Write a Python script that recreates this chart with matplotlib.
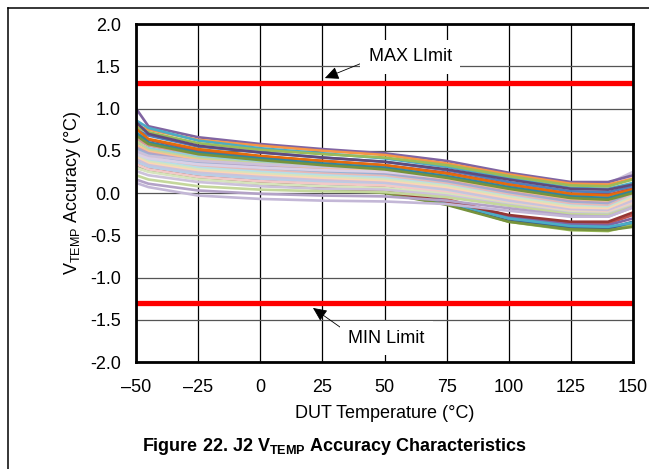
import matplotlib
matplotlib.use("Agg")
from matplotlib import pyplot as plt

plt.rcParams['font.family'] = ['Liberation Sans', 'DejaVu Sans']
plt.rcParams['mathtext.default'] = 'regular'

# temperature points of every unit curve
x_temp = [-50, -45, -25, 0, 25, 50, 75, 100, 125, 140, 150]

# units with the highest error at cold
upper_units = [
    [1.00, 0.79, 0.66, 0.58, 0.52, 0.47, 0.38, 0.24, 0.13, 0.13, 0.21],
    [0.80, 0.75, 0.63, 0.56, 0.50, 0.45, 0.35, 0.22, 0.11, 0.10, 0.17],
    [0.86, 0.77, 0.62, 0.53, 0.47, 0.41, 0.31, 0.18, 0.06, 0.05, 0.12],
    [0.78, 0.72, 0.59, 0.51, 0.46, 0.42, 0.33, 0.20, 0.09, 0.08, 0.16],
    [0.75, 0.68, 0.55, 0.48, 0.42, 0.37, 0.27, 0.13, 0.02, 0.01, 0.08],
    [0.70, 0.63, 0.50, 0.43, 0.38, 0.33, 0.24, 0.10, -0.01, -0.02, 0.05],
    [0.84, 0.70, 0.56, 0.48, 0.42, 0.37, 0.28, 0.16, 0.05, 0.04, 0.10],
    [0.76, 0.64, 0.52, 0.44, 0.38, 0.33, 0.23, 0.10, -0.01, -0.03, 0.04],
    [0.72, 0.60, 0.48, 0.41, 0.35, 0.30, 0.20, 0.07, -0.04, -0.06, 0.02],
    [0.68, 0.58, 0.46, 0.39, 0.33, 0.28, 0.18, 0.05, -0.06, -0.08, 0.00],
]
upper_colors = ['#8064A2', '#F79646', '#4BACC6', '#9BBB59', '#4F81BD',
                '#C0504D', '#604A7B', '#E46C0A', '#31859C', '#77933C']

# units in the middle of the band
middle_units = [
    [0.64, 0.56, 0.45, 0.39, 0.34, 0.30, 0.21, 0.08, -0.03, -0.05, 0.08],
    [0.60, 0.53, 0.43, 0.37, 0.32, 0.28, 0.19, 0.06, -0.05, -0.07, 0.06],
    [0.62, 0.51, 0.41, 0.35, 0.30, 0.27, 0.18, 0.05, -0.06, -0.08, 0.05],
    [0.57, 0.49, 0.39, 0.33, 0.29, 0.25, 0.16, 0.03, -0.08, -0.10, 0.03],
    [0.54, 0.47, 0.37, 0.31, 0.27, 0.23, 0.14, 0.01, -0.10, -0.12, 0.01],
    [0.52, 0.45, 0.35, 0.29, 0.25, 0.21, 0.12, -0.01, -0.12, -0.14, -0.01],
    [0.49, 0.42, 0.32, 0.27, 0.23, 0.20, 0.11, -0.02, -0.13, -0.15, -0.02],
    [0.47, 0.39, 0.30, 0.25, 0.21, 0.18, 0.09, -0.04, -0.15, -0.17, -0.04],
    [0.44, 0.37, 0.28, 0.23, 0.19, 0.16, 0.08, -0.05, -0.16, -0.18, -0.05],
    [0.42, 0.35, 0.26, 0.21, 0.17, 0.14, 0.06, -0.07, -0.18, -0.19, -0.07],
    [0.40, 0.33, 0.24, 0.19, 0.15, 0.12, 0.04, -0.09, -0.20, -0.21, -0.09],
    [0.37, 0.31, 0.22, 0.17, 0.13, 0.10, 0.02, -0.11, -0.22, -0.23, -0.12],
]
middle_colors = ['#D99694', '#93CDDD', '#C3D69B', '#FAC090', '#B3A2C7', '#95B3D7',
                 '#E6B9B8', '#B7DEE8', '#D7E4BD', '#FCD5B5', '#CCC1DA', '#B9CDE5']

# units with the lowest error at cold
lower_units = [
    [0.34, 0.28, 0.19, 0.14, 0.11, 0.09, 0.01, -0.12, -0.22, -0.23, -0.12],
    [0.30, 0.25, 0.16, 0.11, 0.08, 0.06, -0.01, -0.13, -0.23, -0.24, -0.14],
    [0.26, 0.21, 0.13, 0.08, 0.05, 0.04, -0.03, -0.14, -0.24, -0.25, -0.15],
    [0.21, 0.16, 0.08, 0.04, 0.02, 0.01, -0.05, -0.15, -0.25, -0.26, -0.16],
    [0.16, 0.11, 0.03, -0.01, -0.03, -0.04, -0.09, -0.18, -0.27, -0.28, -0.17],
    [0.12, 0.07, -0.03, -0.07, -0.09, -0.10, -0.13, -0.21, -0.28, -0.28, -0.17],
    [0.50, 0.44, 0.38, 0.34, 0.31, 0.29, 0.22, 0.12, 0.08, 0.11, 0.25],
    [0.46, 0.41, 0.34, 0.30, 0.27, 0.25, 0.18, 0.08, 0.04, 0.07, 0.20],
]
lower_colors = ['#F2C9C8', '#D7E4BD', '#CCC1DA', '#C4D79B', '#B3A2C7', '#C3B7D6',
                '#CCC1DA', '#D9D0E6']

# units that drift down the most when hot
drift_units = [
    [0.45, 0.40, 0.30, 0.22, 0.15, 0.08, -0.08, -0.30, -0.42, -0.43, -0.37],
    [0.40, 0.35, 0.25, 0.18, 0.11, 0.05, -0.12, -0.34, -0.44, -0.45, -0.38],
    [0.38, 0.33, 0.23, 0.16, 0.09, 0.03, -0.13, -0.33, -0.41, -0.42, -0.34],
    [0.42, 0.36, 0.26, 0.19, 0.13, 0.07, -0.07, -0.27, -0.36, -0.36, -0.26],
    [0.36, 0.30, 0.21, 0.15, 0.09, 0.04, -0.09, -0.28, -0.37, -0.38, -0.30],
    [0.33, 0.28, 0.19, 0.13, 0.07, 0.02, -0.11, -0.30, -0.39, -0.40, -0.35],
    [0.30, 0.26, 0.17, 0.11, 0.05, 0.00, -0.14, -0.34, -0.43, -0.44, -0.40],
    [0.34, 0.29, 0.20, 0.13, 0.07, 0.02, -0.10, -0.26, -0.34, -0.34, -0.23],
]
drift_colors = ['#4F81BD', '#9BBB59', '#376092', '#C0504D', '#8064A2',
                '#4BACC6', '#77933C', '#953735']

max_limit = 1.3
min_limit = -1.3

x_ticks = [-50, -25, 0, 25, 50, 75, 100, 125, 150]
x_tick_labels = ['\u201350', '\u201325', '0', '25', '50', '75', '100', '125', '150']
y_ticks = [2.0, 1.5, 1.0, 0.5, 0.0, -0.5, -1.0, -1.5, -2.0]
y_tick_labels = ['2.0', '1.5', '1.0', '0.5', '0.0', '-0.5', '-1.0', '-1.5', '-2.0']


def draw_units(ax, units, colors):
    for vals, c in zip(units, colors):
        ax.plot(x_temp, vals, color=c, lw=1.9, solid_joinstyle='round', zorder=3)


fig = plt.figure(figsize=(6.49, 4.69), dpi=100)
ax = fig.add_axes([0.2096, 0.2281, 0.7657, 0.7207])

draw_units(ax, drift_units, drift_colors)
draw_units(ax, middle_units, middle_colors)
draw_units(ax, lower_units, lower_colors)
draw_units(ax, upper_units, upper_colors)

ax.axhline(max_limit, color='#FF0000', lw=3.8, zorder=4)
ax.axhline(min_limit, color='#FF0000', lw=3.8, zorder=4)

ax.set_xlim(-50, 150)
ax.set_ylim(-2, 2)
ax.set_xticks(x_ticks)
ax.set_xticklabels(x_tick_labels)
ax.set_yticks(y_ticks)
ax.set_yticklabels(y_tick_labels)
ax.tick_params(length=0, labelsize=13)
ax.tick_params(axis='y', pad=11)
ax.tick_params(axis='x', pad=12)

# grid: vertical black, horizontal dark grey
ax.grid(axis='x', color='black', lw=0.9, zorder=1)
ax.grid(axis='y', color='#555555', lw=0.9, zorder=1)
for s in ax.spines.values():
    s.set_linewidth(2.0)
    s.set_zorder(5)

ax.set_xlabel('DUT Temperature (\u00b0C)', fontsize=13, labelpad=7)
ax.set_ylabel('V$_{TEMP}$ Accuracy (\u00b0C)', fontsize=13, labelpad=5)

arrow = dict(arrowstyle='-|>,head_length=0.65,head_width=0.3', color='black',
             lw=0.6, shrinkA=0, shrinkB=0)
ax.annotate('MAX LImit', xy=(26, 1.36), xytext=(60.3, 1.61), fontsize=13,
            ha='center', va='center', zorder=6,
            bbox=dict(boxstyle='square,pad=0.45', fc='white', ec='none'),
            arrowprops=dict(arrow, relpos=(0, 0.3)))
ax.annotate('MIN Limit', xy=(21.2, -1.36), xytext=(50.8, -1.716), fontsize=13,
            ha='center', va='center', zorder=6,
            bbox=dict(boxstyle='square,pad=0.45', fc='white', ec='none'),
            arrowprops=dict(arrow, relpos=(0, 0.8)))

fig.text(335 / 649, 1 - 446 / 469, 'Figure 22. J2 V$_{TEMP}$ Accuracy Characteristics',
         fontsize=13, fontweight='bold', ha='center', va='center')

# outer frame of the figure (left and top edges only)
fig.add_artist(plt.Line2D([8 / 649, 8 / 649], [0, 1 - 8 / 469], color='black', lw=1.1))
fig.add_artist(plt.Line2D([8 / 649, 1], [1 - 8 / 469, 1 - 8 / 469], color='black', lw=1.1))

fig.savefig('out.png', dpi=100)
